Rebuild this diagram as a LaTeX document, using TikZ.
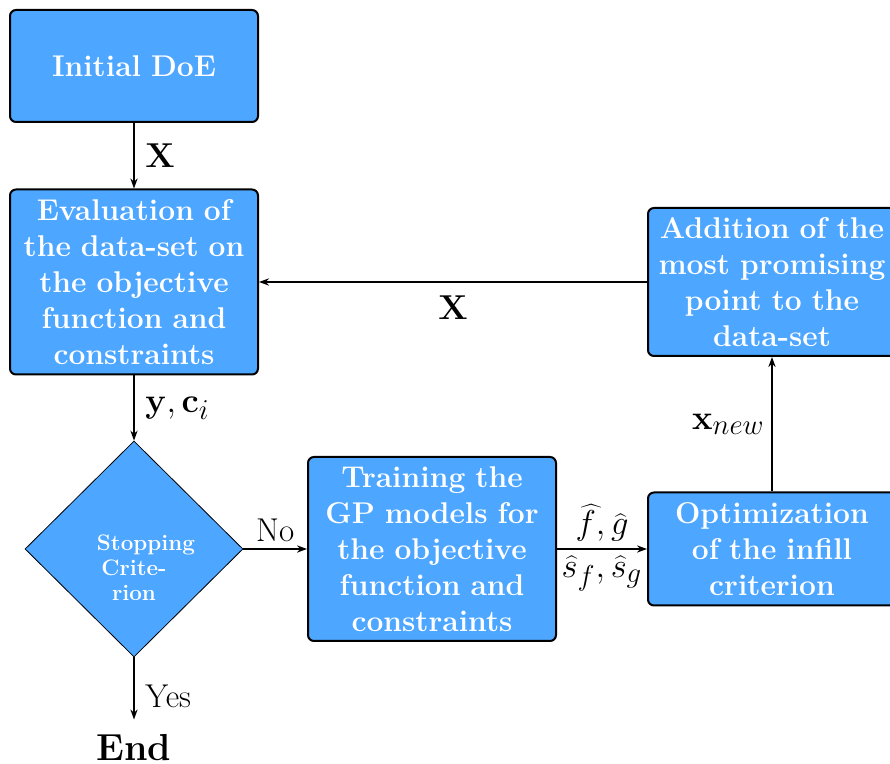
\documentclass[tikz,border=0pt]{standalone}
\usetikzlibrary{shapes.geometric,arrows.meta}
\definecolor{boxblue}{RGB}{77,166,255}
\DeclareMathSizes{18}{18}{15}{12}
\begin{document}
\begin{tikzpicture}[x=0.5pt,y=-0.5pt,
  box/.style={draw=black, line width=1pt, rounded corners=3pt, fill=boxblue,
    text=white, font=\fontsize{15}{18}\selectfont\bfseries, align=center, text width=120pt,
    minimum width=124pt, inner sep=2pt},
  decision/.style={diamond, draw=black, line width=0.4pt, fill=boxblue,
    minimum width=109pt, minimum height=108pt, inner sep=0pt},
  conn/.style={-{Stealth[length=5pt,width=3.6pt]}, line width=0.8pt},
  lbl/.style={font=\fontsize{18}{21}\selectfont},
  word/.style={font=\fontsize{16.5}{19}\selectfont}]
\useasboundingbox (0,0) rectangle (890,764);

\node[box, minimum height=56pt] (init) at (134,66) {Initial DoE};
\node[box, minimum height=92.5pt] (eval) at (134,282) {Evaluation of\\ the data-set on\\ the objective\\ function and\\ constraints};
\node[decision] (stop) at (134,549) {};
\node[font=\fontsize{11.2}{12.5}\selectfont\bfseries, text=white, text width=37pt, align=center, inner sep=0pt] (stoptxt) at (134,568) {Stopping\\ Crite-\\ rion};
\node[box, minimum height=92pt] (train) at (432,549) {Training the\\ GP models for\\ the objective\\ function and\\ constraints};
\node[box, minimum height=56.5pt] (opt) at (772,549) {Optimization\\ of the infill\\ criterion};
\node[box, minimum height=74pt] (add) at (772,282) {Addition of the\\ most promising\\ point to the\\ data-set};
\node[font=\fontsize{18.8}{22}\selectfont\bfseries, inner sep=0pt, anchor=base] (endn) at (134,761) {End};

\draw[conn] (init) -- node[lbl, right=2pt] {$\mathbf{X}$} (eval);
\draw[conn] (eval) -- node[lbl, right=2pt] {$\mathbf{y},\mathbf{c}_i$} (stop);
\draw[conn] (stop) -- node[above, word] {No} (train);
\draw[conn, shorten >=7.5pt] (stop) -- node[right=2pt, word] {Yes} (endn);
\draw[conn] (train) -- node[lbl, above] {$\widehat{f},\widehat{g}$} node[lbl, below] {$\widehat{s}_f,\widehat{s}_g$} (opt);
\draw[conn] (opt) -- node[lbl, left] {$\mathbf{x}_{new}$} (add);
\draw[conn] (add) -- node[lbl, below=3pt] {$\mathbf{X}$} (eval);
\end{tikzpicture}
\end{document}
